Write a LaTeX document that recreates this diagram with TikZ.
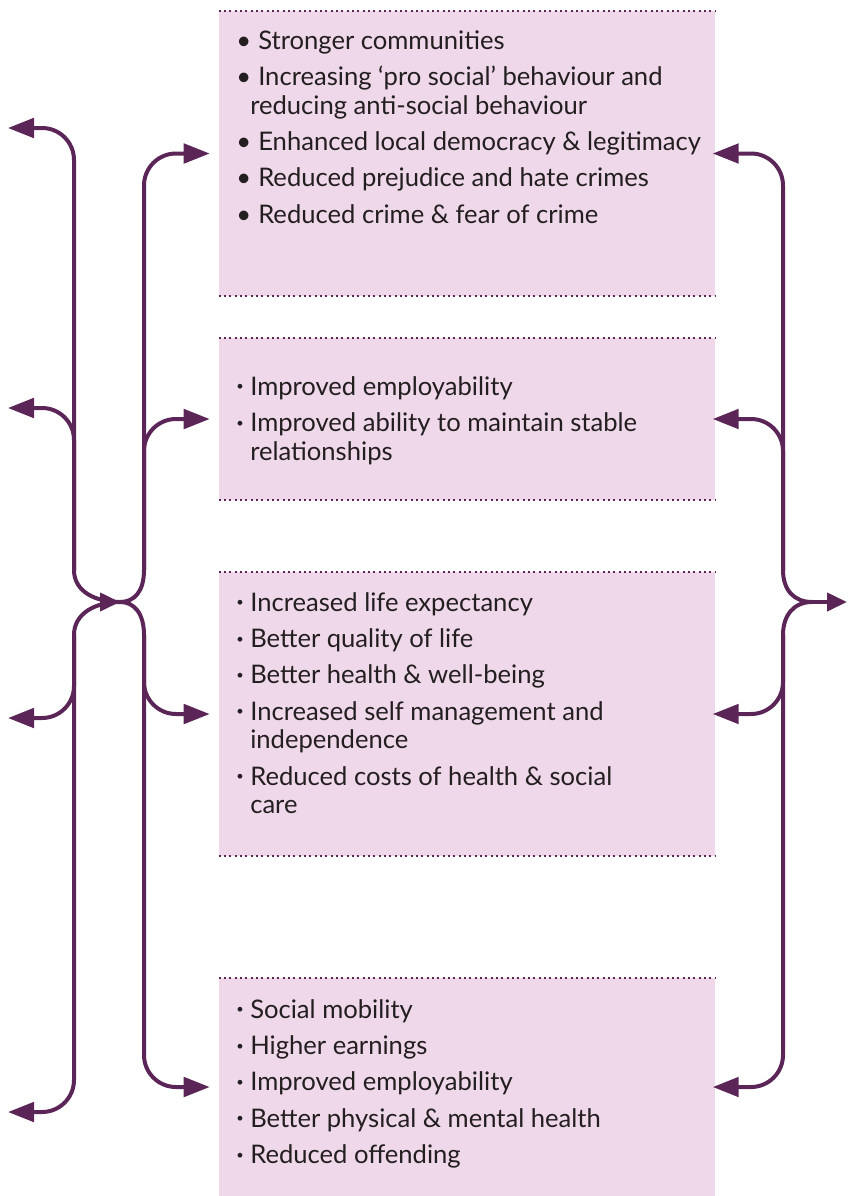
\documentclass[tikz,border=0pt]{standalone}
\usepackage{graphicx}
\usepackage{xcolor}
\usepackage{fontspec}
\setmainfont{Lato}
\usetikzlibrary{arrows.meta}

\definecolor{plum}{RGB}{92,37,88}
\definecolor{panelpink}{RGB}{239,216,233}
\definecolor{inktext}{RGB}{35,31,32}

\newcommand{\bigitem}{\makebox[16.5pt][l]{\textbullet}}
\newcommand{\smallitem}{\makebox[10.5pt][l]{\raisebox{0.35ex}{\scalebox{0.5}{\textbullet}}}}
\newcommand{\contline}{\hspace*{10.5pt}}

\tikzset{
  panel/.style={fill=panelpink, minimum width=372pt, inner sep=0pt},
  dotline/.style={plum, line width=1.5pt, dash pattern=on 1.5pt off 2.5pt},
  flow/.style={plum, line width=3pt},
  tip/.tip={Triangle[length=19.5pt,width=14.5pt]},
  hubtip/.tip={Triangle[length=15pt,width=13.5pt]},
  items/.style={anchor=north west, align=left, inner sep=0pt, text=inktext,
    font=\fontsize{19.2pt}{21.4pt}\selectfont}
}

\begin{document}
\begin{tikzpicture}[x=0.75pt,y=0.75pt,yscale=-1,xscale=1]
    \useasboundingbox (0,0) rectangle (847,1196);

    %Shape: Rectangle
    \node[panel, minimum height=213.75pt] (box1) at (467,153.5) {};
    \node[panel, minimum height=121.5pt] (box2) at (467,419) {};
    \node[panel, minimum height=213pt] (box3) at (467,714) {};
    \node[panel, minimum height=163.5pt] (box4) at (467,1087) {};

    %Dotted Lines
    \draw[dotline] (box1.north west) -- (box1.north east);
    \draw[dotline] (box1.south west) -- (box1.south east);
    \draw[dotline] (box2.north west) -- (box2.north east);
    \draw[dotline] (box2.south west) -- (box2.south east);
    \draw[dotline] (box3.north west) -- (box3.north east);
    \draw[dotline] (box3.south west) -- (box3.south east);
    \draw[dotline] (box4.north west) -- (box4.north east);

    % Text Node (first baseline 20 below the top)
    \node[items] (list1) at (236,29) {\strut\bigitem Stronger communities\\[5.85pt]
      \bigitem Increasing `pro social' behaviour and\\
      \contline reducing anti-social behaviour\\[5.85pt]
      \bigitem Enhanced local democracy \& legitimacy\\[5.85pt]
      \bigitem Reduced prejudice and hate crimes\\[5.85pt]
      \bigitem Reduced crime \& fear of crime};
    % Text Node
    \node[items] (list2) at (236,375) {\strut\smallitem Improved employability\\[5.85pt]
      \smallitem Improved ability to maintain stable\\
      \contline relationships};
    % Text Node
    \node[items] (list3) at (236,591) {\strut\smallitem Increased life expectancy\\[5.85pt]
      \smallitem Better quality of life\\[5.85pt]
      \smallitem Better health \& well-being\\[5.85pt]
      \smallitem Increased self management and\\
      \contline independence\\[5.85pt]
      \smallitem Reduced costs of health \& social\\
      \contline care};
    % Text Node
    \node[items] (list4) at (236,998) {\strut\smallitem Social mobility\\[5.85pt]
      \smallitem Higher earnings\\[5.85pt]
      \smallitem Improved employability\\[5.85pt]
      \smallitem Better physical \& mental health\\[5.85pt]
      \smallitem Reduced offending};

    %Coordinates of the branching lines
    \coordinate (L1) at (8,128);
    \coordinate (L2) at (8,408);
    \coordinate (L3) at (8,718);
    \coordinate (L4) at (8,1112);
    \coordinate (lu) at (74,570);
    \coordinate (ld) at (74,635);
    \coordinate (iu) at (144,570);
    \coordinate (id) at (144,635);
    \coordinate (hubtail) at (100,602);
    \coordinate (hub) at (120,602);
    \coordinate (ru) at (783,570);
    \coordinate (rd) at (783,635);
    \coordinate (rj) at (812,602);
    \coordinate (out) at (847,602);

    %Left outer line
    \draw[flow, {tip}-, rounded corners=24pt] (L1) -| (lu);
    \draw[flow, {tip}-, rounded corners=24pt] (L2) -| (lu);
    \draw[flow, {tip}-, rounded corners=24pt] (L3) -| (ld);
    \draw[flow, {tip}-, rounded corners=24pt] (L4) -| (ld);
    \draw[flow] (lu) .. controls +(0,22) and +(-24,0) .. (hub);
    \draw[flow] (ld) .. controls +(0,-22) and +(-24,0) .. (hub);

    %Inner line
    \draw[flow] (iu) .. controls +(0,22) and +(14,0) .. (hub);
    \draw[flow] (id) .. controls +(0,-22) and +(14,0) .. (hub);
    \draw[flow, -{hubtip}] (hubtail) -- (hub);
    \draw[flow, -{tip}, rounded corners=24pt, shorten >=6.75pt] (iu) |- (box1.west);
    \draw[flow, -{tip}, rounded corners=24pt, shorten >=6.75pt] (iu) |- (box2.west);
    \draw[flow, -{tip}, rounded corners=24pt, shorten >=6.75pt] (id) |- (box3.west);
    \draw[flow, -{tip}, rounded corners=24pt, shorten >=6.75pt] (id) |- (box4.west);

    %Right line
    \draw[flow, -{tip}, rounded corners=24pt, shorten >=-1.9pt] (ru) |- (box1.east);
    \draw[flow, -{tip}, rounded corners=24pt, shorten >=-1.9pt] (ru) |- (box2.east);
    \draw[flow, -{tip}, rounded corners=24pt, shorten >=-1.9pt] (rd) |- (box3.east);
    \draw[flow, -{tip}, rounded corners=24pt, shorten >=-1.9pt] (rd) |- (box4.east);
    \draw[flow] (ru) .. controls +(0,20) and +(-18,0) .. (rj);
    \draw[flow] (rd) .. controls +(0,-20) and +(-18,0) .. (rj);
    \draw[flow, -{hubtip}] (rj) -- (out);

\end{tikzpicture}
\end{document}
